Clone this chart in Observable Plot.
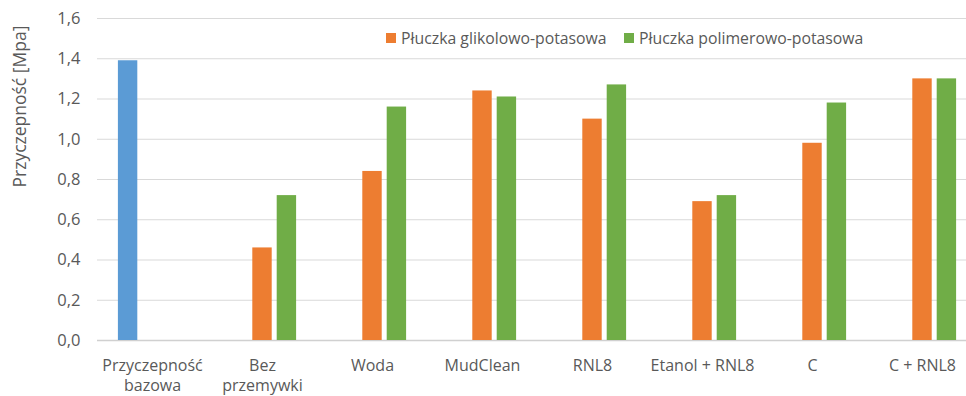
<!DOCTYPE html>
<html><head><meta charset="utf-8">
<script src="https://cdn.jsdelivr.net/npm/d3@7"></script>
<script src="https://cdn.jsdelivr.net/npm/@observablehq/plot@0.6"></script>
<style>
body{margin:0;background:#fff;font-family:"Open Sans",sans-serif;}
#wrap{position:relative;width:966px;height:396px;overflow:hidden;background:#fff;}
.lg{position:absolute;top:27px;display:flex;align-items:center;font-size:15.8px;color:#595959;white-space:nowrap;}
.lg span.sw{display:inline-block;width:10px;height:10px;margin-right:5px;}
</style></head><body>
<div id="wrap"><div id="chart"></div></div>
<script>
const categories = ["Przyczepność bazowa","Bez przemywki","Woda","MudClean","RNL8","Etanol + RNL8","C","C + RNL8"];
const tickLabels = ["Przyczepność\nbazowa","Bez\nprzemywki","Woda","MudClean","RNL8","Etanol + RNL8","C","C + RNL8"];
const baseSeriesName = "Przyczepność bazowa";
const baseCategories = ["Przyczepność bazowa"];
const baseValues = [1.39];
const seriesNames = ["Płuczka glikolowo-potasowa","Płuczka polimerowo-potasowa"];
const glikolowoValues = [null,0.46,0.84,1.24,1.10,0.69,0.98,1.30];
const polimerowoValues = [null,0.72,1.16,1.21,1.27,0.72,1.18,1.30];
const yTicks = [0,0.2,0.4,0.6,0.8,1.0,1.2,1.4,1.6];
const colors = {"Przyczepność bazowa":"#5b9bd5","Płuczka glikolowo-potasowa":"#ed7d31","Płuczka polimerowo-potasowa":"#70ad47"};

const baseData = baseCategories.map((c,i)=>({category:c, series:baseSeriesName, value:baseValues[i]}));
const glikData = categories.map((c,i)=>({category:c, series:seriesNames[0], value:glikolowoValues[i]})).filter(d=>d.value!=null);
const polData = categories.map((c,i)=>({category:c, series:seriesNames[1], value:polimerowoValues[i]})).filter(d=>d.value!=null);
const labelMap = new Map(categories.map((c,i)=>[c,tickLabels[i]]));

const step = 24.4, inset = (110-19.4)/2;
const fmt = d => d.toFixed(1).replace(".", ",");
const font = '"Open Sans", sans-serif';

const chart = Plot.plot({
  width: 966, height: 396,
  marginLeft: 97, marginRight: -11, marginTop: 18, marginBottom: 56,
  style: {fontFamily: font, fontSize: "16px", color: "#595959", background: "#fff"},
  x: {domain: categories, padding: 0, axis: null},
  y: {domain: [0, 1.6], axis: null},
  marks: [
    Plot.gridY(yTicks, {stroke: "#d9d9d9", strokeOpacity: 1, strokeWidth: 1}),
    Plot.ruleY([0], {stroke: "#d0d0d0", strokeWidth: 1.5}),
    Plot.barY(baseData, {x: "category", y: "value", fill: d => colors[d.series], dx: -step, insetLeft: inset, insetRight: inset}),
    Plot.barY(glikData, {x: "category", y: "value", fill: d => colors[d.series], insetLeft: inset, insetRight: inset}),
    Plot.barY(polData, {x: "category", y: "value", fill: d => colors[d.series], dx: step, insetLeft: inset, insetRight: inset}),
    Plot.axisY(yTicks, {tickSize: 0, tickPadding: 17, tickFormat: fmt, fill: "#595959", fontSize: 16.5, label: null}),
    Plot.text(categories, {x: d => d, y: () => 0, text: d => labelMap.get(d), lineAnchor: "top", dy: 16, lineHeight: 1.25, fill: "#595959", fontSize: 16}),
    Plot.text(["Przyczepność [Mpa]"], {frameAnchor: "left", dx: -77, dy: 8, rotate: -90, fill: "#595959", fontSize: 17.5})
  ]
});
const wrap = document.getElementById("wrap");
document.getElementById("chart").appendChild(chart);
const legendPos = [386, 624];
seriesNames.forEach((s,i)=>{
  const el = document.createElement("div");
  el.className = "lg";
  el.style.left = legendPos[i] + "px";
  el.innerHTML = `<span class="sw" style="background:${colors[s]}"></span><span>${s}</span>`;
  wrap.appendChild(el);
});
</script>
</body></html>
